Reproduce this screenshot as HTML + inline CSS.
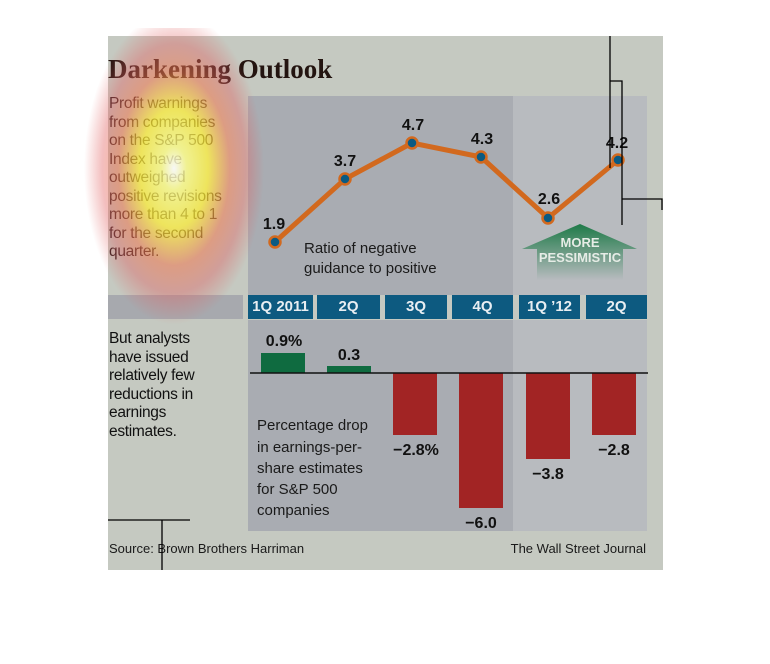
<!DOCTYPE html>
<html><head><meta charset="utf-8"><style>
body{margin:0;width:770px;height:664px;background:#fff;position:relative;overflow:hidden;font-family:"Liberation Sans",sans-serif}
.a{position:absolute}
#bg{left:108px;top:36px;width:555px;height:534px;background:#c5c9c1}
.t{color:#1a1a1a}
.tab{position:absolute;top:295px;height:24px;background:#0d5a80;color:#e8eef2;font-weight:bold;font-size:15px;text-align:center;line-height:24px}
.side{font-size:15.5px;line-height:18.5px;color:#2a1a1a;letter-spacing:-0.3px}
</style></head><body>
<div class="a" id="bg"></div>
<div class="a" style="left:248px;top:96px;width:265px;height:199px;background:#a9acb2"></div>
<div class="a" style="left:513px;top:96px;width:134px;height:199px;background:#b8bbbf"></div>
<div class="a" style="left:108px;top:295px;width:135px;height:24px;background:#a7a9ae"></div>
<div class="a" style="left:248px;top:320px;width:265px;height:211px;background:#a9acb2"></div>
<div class="a" style="left:513px;top:320px;width:134px;height:211px;background:#b8bbbf"></div>
<div class="tab" style="left:248px;width:65px">1Q 2011</div>
<div class="tab" style="left:317px;width:63px">2Q</div>
<div class="tab" style="left:385px;width:62px">3Q</div>
<div class="tab" style="left:452px;width:61px">4Q</div>
<div class="tab" style="left:519px;width:61px">1Q ’12</div>
<div class="tab" style="left:586px;width:61px">2Q</div>
<div class="a t" style="left:108px;top:54px;font-family:'Liberation Serif',serif;font-weight:bold;font-size:27px;color:#231410">Darkening Outlook</div>
<div class="a side" style="left:109px;top:95px">Profit warnings<br>from companies<br>on the S&amp;P 500<br>Index have<br>outweighed<br>positive revisions<br>more than 4 to 1<br>for the second<br>quarter.</div>
<div class="a side" style="left:109px;top:330px;color:#111">But analysts<br>have issued<br>relatively few<br>reductions in<br>earnings<br>estimates.</div>
<svg class="a" style="left:0;top:0" width="770" height="664">
<defs><linearGradient id="g" x1="0" y1="0" x2="0" y2="1"><stop offset="0" stop-color="#1e7a48"/><stop offset="1" stop-color="#1e7a48" stop-opacity="0"/></linearGradient></defs>
<polygon points="580,224 637,249 623,249 623,280 537,280 537,249 522,249" fill="url(#g)"/>
<text x="580" y="247" font-size="13" font-weight="bold" fill="#e6ece6" text-anchor="middle" font-family="Liberation Sans">MORE</text>
<text x="580" y="262" font-size="13" font-weight="bold" fill="#e6ece6" text-anchor="middle" font-family="Liberation Sans">PESSIMISTIC</text>
<polyline points="275,242 345,179 412,143 481,157 548,218 618,160" fill="none" stroke="#d2691e" stroke-width="5"/>
<g fill="#0b5a82" stroke="#d2691e" stroke-width="2.5">
<circle cx="275" cy="242" r="5.5"/><circle cx="345" cy="179" r="5.5"/><circle cx="412" cy="143" r="5.5"/><circle cx="481" cy="157" r="5.5"/><circle cx="548" cy="218" r="5.5"/><circle cx="618" cy="160" r="5.5"/></g>
<g font-family="Liberation Sans" font-weight="bold" font-size="16" fill="#111" text-anchor="middle">
<text x="274" y="229">1.9</text><text x="345" y="166">3.7</text><text x="413" y="130">4.7</text><text x="482" y="144">4.3</text><text x="549" y="204">2.6</text><text x="617" y="148">4.2</text>
<text x="284" y="346">0.9%</text><text x="349" y="360">0.3</text><text x="416" y="455">−2.8%</text><text x="481" y="528">−6.0</text><text x="548" y="479">−3.8</text><text x="614" y="455">−2.8</text></g>
<text x="304" y="253" font-size="15" fill="#1a1a1a" font-family="Liberation Sans">Ratio of negative</text>
<text x="304" y="273" font-size="15" fill="#1a1a1a" font-family="Liberation Sans">guidance to positive</text>
<g font-size="15" fill="#1a1a1a" font-family="Liberation Sans"><text x="257" y="430">Percentage drop</text><text x="257" y="452">in earnings-per-</text><text x="257" y="473">share estimates</text><text x="257" y="494">for S&amp;P 500</text><text x="257" y="515">companies</text></g>
<rect x="261" y="353" width="44" height="20" fill="#0f6b40"/>
<rect x="327" y="366" width="44" height="7" fill="#0f6b40"/>
<rect x="393" y="373" width="44" height="62" fill="#a22424"/>
<rect x="459" y="373" width="44" height="135" fill="#a22424"/>
<rect x="526" y="373" width="44" height="86" fill="#a22424"/>
<rect x="592" y="373" width="44" height="62" fill="#a22424"/>
<line x1="250" y1="373" x2="648" y2="373" stroke="#111" stroke-width="1.5"/>
<g font-size="13" fill="#1a1a1a" font-family="Liberation Sans"><text x="109" y="553">Source: Brown Brothers Harriman</text><text x="646" y="553" text-anchor="end">The Wall Street Journal</text></g>
<g stroke="#000" stroke-width="1.3" fill="none"><polyline points="610,36 610,168"/><polyline points="610,81 622,81 622,225"/><polyline points="622,199 662,199 662,210"/><line x1="108" y1="520" x2="190" y2="520"/><line x1="162" y1="520" x2="162" y2="570"/></g>
</svg>
<div class="a" style="left:84px;top:28px;width:180px;height:312px;background:radial-gradient(ellipse 50% 50% at 50% 45%,rgba(255,255,255,.85) 0%,rgba(255,255,130,.75) 14%,rgba(255,240,50,.7) 38%,rgba(240,120,80,.55) 62%,rgba(225,95,95,.4) 80%,rgba(200,100,100,0) 100%)"></div>
</body></html>
